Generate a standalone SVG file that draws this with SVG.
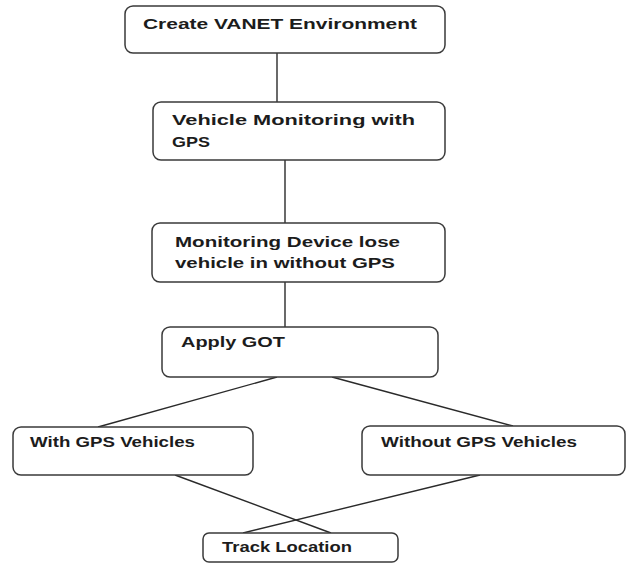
<svg xmlns="http://www.w3.org/2000/svg" width="627" height="565" viewBox="0 0 627 565">
<style>
.box{fill:#fff;stroke:#3a3a3a;stroke-width:1.5}
.t{font-family:"Liberation Sans",Arial,sans-serif;font-weight:bold;font-size:15.5px;fill:#1c1c1c}
.c{stroke:#2a2a2a;stroke-width:1.4;fill:none}
</style>
<rect width="627" height="565" fill="#fff"/>
<g id="connectors">
<line class="c" x1="277" y1="53" x2="277" y2="102"/>
<line class="c" x1="285" y1="160" x2="285" y2="223"/>
<line class="c" x1="285" y1="282" x2="285" y2="327"/>
<line class="c" x1="277" y1="377" x2="98" y2="427"/>
<line class="c" x1="332" y1="377" x2="513" y2="426"/>
<line class="c" x1="175" y1="475" x2="331" y2="533"/>
<line class="c" x1="480" y1="475" x2="243" y2="533"/>
</g>
<g id="n1">
<rect class="box" x="125" y="6" width="320" height="47" rx="8"/>
<text class="t" x="143" y="29" textLength="274" lengthAdjust="spacingAndGlyphs">Create VANET Environment</text>
</g>
<g id="n2">
<rect class="box" x="153" y="102" width="292" height="58" rx="8"/>
<text class="t" x="172" y="125" textLength="243" lengthAdjust="spacingAndGlyphs">Vehicle Monitoring with</text>
<text class="t" x="172" y="147" textLength="38" lengthAdjust="spacingAndGlyphs">GPS</text>
</g>
<g id="n3">
<rect class="box" x="152" y="223" width="293" height="59" rx="8"/>
<text class="t" x="175" y="247" textLength="225" lengthAdjust="spacingAndGlyphs">Monitoring Device lose</text>
<text class="t" x="175" y="268" textLength="220" lengthAdjust="spacingAndGlyphs">vehicle in without GPS</text>
</g>
<g id="n4">
<rect class="box" x="162" y="327" width="276" height="50" rx="8"/>
<text class="t" x="181" y="347" textLength="104" lengthAdjust="spacingAndGlyphs">Apply GOT</text>
</g>
<g id="n5">
<rect class="box" x="13" y="427" width="240" height="48" rx="8"/>
<text class="t" x="30" y="447" textLength="165" lengthAdjust="spacingAndGlyphs">With GPS Vehicles</text>
</g>
<g id="n6">
<rect class="box" x="362" y="426" width="263" height="49" rx="8"/>
<text class="t" x="381" y="447" textLength="196" lengthAdjust="spacingAndGlyphs">Without GPS Vehicles</text>
</g>
<g id="n7">
<rect class="box" x="203" y="533" width="195" height="29" rx="6"/>
<text class="t" x="222" y="552" textLength="130" lengthAdjust="spacingAndGlyphs">Track Location</text>
</g>
</svg>
